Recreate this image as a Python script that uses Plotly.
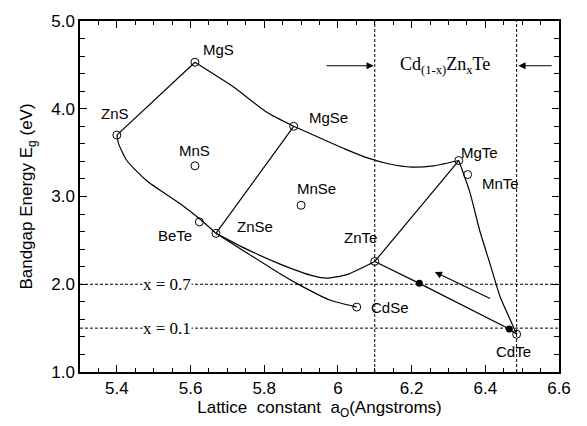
import plotly.graph_objects as go

# ---- data ----
# open-circle compounds
names = ["ZnS", "MgS", "MgSe", "MnS", "MgTe", "MnTe", "MnSe", "BeTe", "ZnSe", "ZnTe", "CdSe", "CdTe"]
lat = [5.40, 5.612, 5.88, 5.612, 6.328, 6.352, 5.90, 5.624, 5.669, 6.10, 6.051, 6.485]
gap = [3.70, 4.53, 3.80, 3.35, 3.41, 3.25, 2.90, 2.71, 2.58, 2.26, 1.74, 1.43]

# label positions
lab_x = [5.395, 5.676, 5.974, 5.612, 6.385, 6.44, 5.942, 5.558, 5.775, 6.06, 6.141, 6.476]
lab_y = [3.95, 4.68, 3.90, 3.52, 3.50, 3.145, 3.09, 2.56, 2.66, 2.53, 1.74, 1.23]

# filled composition points on the CdZnTe line
fill_x = [6.221, 6.465]
fill_y = [2.01, 1.49]

# alloy curves
curve_ZnS_MgS_x = [5.40, 5.612]
curve_ZnS_MgS_y = [3.70, 4.53]
curve_MgS_MgSe_x = [5.612, 5.716, 5.807, 5.88]
curve_MgS_MgSe_y = [4.53, 4.25, 3.96, 3.80]
curve_MgSe_MgTe_x = [5.88, 5.95, 6.02, 6.08, 6.14, 6.20, 6.26, 6.328]
curve_MgSe_MgTe_y = [3.80, 3.67, 3.54, 3.44, 3.37, 3.335, 3.35, 3.41]
curve_ZnS_ZnSe_x = [5.40, 5.405, 5.427, 5.481, 5.571, 5.626, 5.669]
curve_ZnS_ZnSe_y = [3.70, 3.60, 3.41, 3.18, 2.92, 2.74, 2.58]
curve_ZnSe_ZnTe_x = [5.669, 5.752, 5.843, 5.933, 5.969, 6.024, 6.10]
curve_ZnSe_ZnTe_y = [2.58, 2.40, 2.23, 2.095, 2.07, 2.11, 2.26]
curve_ZnSe_CdSe_x = [5.669, 5.752, 5.843, 5.888, 5.978, 6.051]
curve_ZnSe_CdSe_y = [2.58, 2.36, 2.12, 2.01, 1.82, 1.74]
curve_ZnSe_MgSe_x = [5.669, 5.88]
curve_ZnSe_MgSe_y = [2.58, 3.80]
curve_ZnTe_MgTe_x = [6.10, 6.328]
curve_ZnTe_MgTe_y = [2.26, 3.41]
curve_MgTe_CdTe_x = [6.328, 6.358, 6.385, 6.413, 6.44, 6.467, 6.485]
curve_MgTe_CdTe_y = [3.41, 3.05, 2.61, 2.23, 1.86, 1.60, 1.43]
curve_ZnTe_CdTe_x = [6.10, 6.221, 6.465, 6.485]
curve_ZnTe_CdTe_y = [2.26, 2.01, 1.49, 1.43]

# guide lines
vlines = [6.10, 6.485]
hlines = [2.0, 1.5]
hline_labels = ["x = 0.7", "x = 0.1"]
hline_label_x = 5.535

x_tickvals = [5.4, 5.6, 5.8, 6.0, 6.2, 6.4, 6.6]
x_ticktext = ["5.4", "5.6", "5.8", "6", "6.2", "6.4", "6.6"]
y_tickvals = [1.0, 2.0, 3.0, 4.0, 5.0]
y_ticktext = ["1.0", "2.0", "3.0", "4.0", "5.0"]

fig = go.Figure()

# dashed guide lines
for xv in vlines:
    fig.add_shape(type="line", x0=xv, x1=xv, y0=1.0, y1=5.0, xref="x", yref="y",
                  line=dict(color="black", width=1, dash="3px,2px"), layer="below")
for yv in hlines:
    fig.add_shape(type="line", x0=5.3, x1=6.6, y0=yv, y1=yv, xref="x", yref="y",
                  line=dict(color="black", width=1, dash="3px,2px"), layer="below")

curves = [
    (curve_ZnS_MgS_x, curve_ZnS_MgS_y, "linear"),
    (curve_MgS_MgSe_x, curve_MgS_MgSe_y, "spline"),
    (curve_MgSe_MgTe_x, curve_MgSe_MgTe_y, "spline"),
    (curve_ZnS_ZnSe_x, curve_ZnS_ZnSe_y, "spline"),
    (curve_ZnSe_ZnTe_x, curve_ZnSe_ZnTe_y, "spline"),
    (curve_ZnSe_CdSe_x, curve_ZnSe_CdSe_y, "spline"),
    (curve_ZnSe_MgSe_x, curve_ZnSe_MgSe_y, "linear"),
    (curve_ZnTe_MgTe_x, curve_ZnTe_MgTe_y, "linear"),
    (curve_MgTe_CdTe_x, curve_MgTe_CdTe_y, "spline"),
    (curve_ZnTe_CdTe_x, curve_ZnTe_CdTe_y, "linear"),
]
for cx, cy, shp in curves:
    fig.add_trace(go.Scatter(x=cx, y=cy, mode="lines",
                             line=dict(color="black", width=1.2, shape=shp, smoothing=0.6),
                             showlegend=False, hoverinfo="skip"))

fig.add_trace(go.Scatter(x=lat, y=gap, mode="markers",
                         marker=dict(symbol="circle-open", size=8, color="black",
                                     line=dict(width=1, color="black")),
                         showlegend=False))
fig.add_trace(go.Scatter(x=fill_x, y=fill_y, mode="markers",
                         marker=dict(symbol="circle", size=7, color="black"),
                         showlegend=False))

# compound labels
for n, lx, ly in zip(names, lab_x, lab_y):
    fig.add_annotation(x=lx, y=ly, text=n, showarrow=False,
                       font=dict(family="Liberation Sans, Arial", size=15, color="black"))

# x labels on the dashed lines
for yv, t in zip(hlines, hline_labels):
    fig.add_annotation(x=hline_label_x, y=yv, text=t, showarrow=False, bgcolor="white",
                       borderpad=0,
                       font=dict(family="Liberation Serif, Times New Roman", size=17, color="black"))

# CdZnTe range label and arrows
fig.add_annotation(x=6.29, y=4.49, text="Cd<sub>(1-x)</sub>Zn<sub>x</sub>Te", showarrow=False,
                   font=dict(family="Liberation Serif, Times New Roman", size=18, color="black"))
fig.add_annotation(x=6.10, y=4.49, ax=5.965, ay=4.49, xref="x", yref="y", axref="x", ayref="y",
                   text="", showarrow=True, arrowhead=2, arrowsize=1.2, arrowwidth=1.2,
                   arrowcolor="black", standoff=1)
fig.add_annotation(x=6.487, y=4.49, ax=6.584, ay=4.49, xref="x", yref="y", axref="x", ayref="y",
                   text="", showarrow=True, arrowhead=2, arrowsize=1.2, arrowwidth=1.2,
                   arrowcolor="black", standoff=1)
fig.add_annotation(x=6.263, y=2.14, ax=6.417, ay=1.83, xref="x", yref="y", axref="x", ayref="y",
                   text="", showarrow=True, arrowhead=2, arrowsize=1.2, arrowwidth=1.2,
                   arrowcolor="black")

axis_font = dict(family="Liberation Sans, Arial", size=17, color="black")
title_font = dict(family="Liberation Sans, Arial", size=17, color="black")
fig.update_xaxes(range=[5.3, 6.6], tickvals=x_tickvals, ticktext=x_ticktext,
                 ticks="inside", ticklen=7, tickcolor="black", tickwidth=1,
                 minor=dict(dtick=0.05, tick0=5.3, ticks="inside", ticklen=4, tickcolor="black"),
                 showline=True, linecolor="black", linewidth=1.5, mirror="allticks",
                 showgrid=False, zeroline=False, tickfont=axis_font,
                 title=dict(text="Lattice  constant  a<sub>O</sub>(Angstroms)",
                            font=title_font, standoff=2))
fig.update_yaxes(range=[1.0, 5.0], tickvals=y_tickvals, ticktext=y_ticktext,
                 ticks="inside", ticklen=7, tickcolor="black", tickwidth=1,
                 minor=dict(dtick=0.2, tick0=1.0, ticks="inside", ticklen=5, tickcolor="black"),
                 showline=True, linecolor="black", linewidth=1.5, mirror="allticks",
                 showgrid=False, zeroline=False, tickfont=axis_font,
                 title=dict(text="Bandgap Energy E<sub>g</sub> (eV)",
                            font=title_font, standoff=14))

fig.update_layout(width=587, height=426, margin=dict(l=80, r=28, t=14, b=54),
                  plot_bgcolor="white", paper_bgcolor="white", showlegend=False)

fig.write_html("out.html")
